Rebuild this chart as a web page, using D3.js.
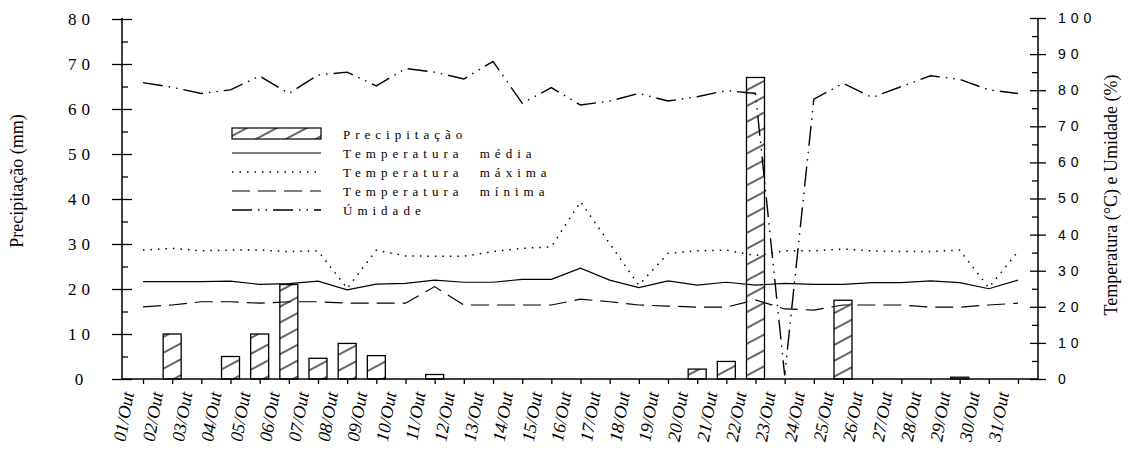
<!DOCTYPE html>
<html>
<head>
<meta charset="utf-8">
<script src="https://cdn.jsdelivr.net/npm/d3@7"></script>
<style>
  body { margin: 0; background: #fff; }
  svg text { fill: #000; }
</style>
</head>
<body>
<div id="chart"></div>
<script>
// Precipitação (barras, eixo esq.) e temperatura/umidade (linhas, eixo dir.) - Outubro

const days = ['01/Out', '02/Out', '03/Out', '04/Out', '05/Out', '06/Out', '07/Out', '08/Out',
  '09/Out', '10/Out', '11/Out', '12/Out', '13/Out', '14/Out', '15/Out', '16/Out', '17/Out',
  '18/Out', '19/Out', '20/Out', '21/Out', '22/Out', '23/Out', '24/Out', '25/Out', '26/Out',
  '27/Out', '28/Out', '29/Out', '30/Out', '31/Out'];

const precipitacao = [0, 10, 0, 5, 10, 21, 4.6, 7.9, 5.2, 0, 1, 0, 0, 0, 0, 0, 0, 0, 0, 2.2,
  3.9, 67, 0, 0, 17.5, 0, 0, 0, 0.4, 0, 0];

const tMedia = [27.0, 27.0, 27.0, 27.1, 26.2, 26.4, 27.1, 24.7, 26.3, 26.5, 27.4, 26.8, 26.8,
  27.6, 27.6, 30.7, 27.4, 25.3, 27.2, 26.0, 26.8, 26.0, 26.5, 26.2, 26.2, 26.7, 26.7, 27.2,
  26.7, 25.0, 27.4];

const tMaxima = [35.7, 36.2, 35.5, 35.7, 35.7, 35.3, 35.5, 25.1, 35.7, 34.1, 34.0, 34.0, 35.3,
  36.2, 36.6, 49.1, 37.5, 26.0, 34.8, 35.5, 35.7, 34.2, 35.5, 35.5, 36.0, 35.5, 35.3, 35.3,
  35.7, 25.3, 35.3];

const tMinima = [20.0, 20.5, 21.4, 21.4, 21.0, 21.4, 21.4, 21.0, 21.0, 21.0, 25.6, 20.5, 20.5,
  20.5, 20.5, 22.1, 21.4, 20.5, 20.2, 19.9, 19.9, 21.9, 19.4, 19.1, 20.5, 20.5, 20.5, 19.9,
  19.9, 20.5, 21.0];

const umidade = [82.1, 80.8, 79.1, 80.1, 83.9, 79.1, 84.2, 85.0, 81.2, 86.0, 85.0, 83.1, 88.0,
  76.4, 80.7, 75.9, 77.0, 79.1, 77.0, 78.2, 79.9, 79.1, 1, 77.5, 81.9, 78.0, 81.0, 84.0, 83.0,
  80.1, 79.1];

const leftTicks = [0, 10, 20, 30, 40, 50, 60, 70, 80];
const rightTicks = [0, 10, 20, 30, 40, 50, 60, 70, 80, 90, 100];

const serif = '"Liberation Serif", "Times New Roman", serif';
const sans = '"Liberation Sans", Arial, sans-serif';

const width = 1134, height = 450;
const margin = { top: 18, right: 96, bottom: 71, left: 122 };
const plotW = width - margin.left - margin.right;
const plotH = height - margin.top - margin.bottom;

const svg = d3.select('#chart').append('svg')
  .attr('width', width).attr('height', height);

const defs = svg.append('defs');
const pat = defs.append('pattern').attr('id', 'hatch')
  .attr('patternUnits', 'userSpaceOnUse')
  .attr('width', 14).attr('height', 14)
  .attr('patternTransform', 'rotate(-28)');
pat.append('line').attr('x1', 0).attr('x2', 14).attr('y1', 7).attr('y2', 7)
  .attr('stroke', '#000').attr('stroke-width', 1.2);

const g = svg.append('g').attr('transform', `translate(${margin.left},${margin.top})`);

const x = d3.scalePoint().domain(days).range([21, plotW - 20]);
const yL = d3.scaleLinear().domain([0, 80]).range([plotH, 1]);
const yR = d3.scaleLinear().domain([0, 100]).range([plotH, 0]);

// barras
g.selectAll('.bar').data(days.map((d, i) => ({ d, v: precipitacao[i] })).filter(p => p.v > 0))
  .join('rect')
  .attr('class', 'bar')
  .attr('x', p => x(p.d) - 9).attr('width', 18)
  .attr('y', p => yL(p.v)).attr('height', p => plotH - yL(p.v))
  .attr('fill', 'url(#hatch)').attr('stroke', '#000').attr('stroke-width', 1.3);

// linhas
const series = [
  { name: 'Temperatura média', values: tMedia, dash: null, sw: 1.2 },
  { name: 'Temperatura máxima', values: tMaxima, dash: '1.5,6', sw: 1.5 },
  { name: 'Temperatura mínima', values: tMinima, dash: '18,8', sw: 1.2 },
  { name: 'Úmidade', values: umidade, dash: '20,6,1.5,6,1.5,6', sw: 1.4 }
];

const line = d3.line().x((v, i) => x(days[i])).y(v => yR(v));

g.selectAll('.serie').data(series).join('path')
  .attr('class', 'serie')
  .attr('d', s => line(s.values))
  .attr('fill', 'none').attr('stroke', '#000')
  .attr('stroke-width', s => s.sw)
  .attr('stroke-dasharray', s => s.dash);

// eixo esquerdo
const axL = g.append('g')
  .call(d3.axisLeft(yL).tickValues(leftTicks).tickSize(10).tickFormat(d3.format('d')));
axL.select('.domain').attr('stroke-width', 1.5).attr('d', `M0,${plotH}V0`);
axL.selectAll('.tick line').attr('x1', 10).attr('stroke-width', 1.3);
axL.selectAll('.tick text')
  .attr('text-anchor', 'middle').attr('x', -40.5)
  .attr('font-family', serif).attr('font-size', 17).attr('letter-spacing', 5);
g.append('g')
  .call(d3.axisRight(yL).tickValues(d3.range(5, 80, 10)).tickSize(6).tickFormat(''))
  .call(a => a.select('.domain').remove())
  .selectAll('line').attr('stroke-width', 1.3);

// eixo direito
const axR = g.append('g').attr('transform', `translate(${plotW},0)`)
  .call(d3.axisRight(yR).tickValues(rightTicks).tickSize(8).tickPadding(12));
axR.select('.domain').attr('stroke-width', 1.5).attr('d', `M0,${plotH}V0`);
axR.selectAll('.tick line').attr('x1', -8).attr('stroke-width', 1.3);
axR.selectAll('.tick text')
  .attr('font-family', sans).attr('font-size', 14).attr('letter-spacing', 5);
g.append('g').attr('transform', `translate(${plotW},0)`)
  .call(d3.axisLeft(yR).tickValues(d3.range(5, 100, 10)).tickSize(6).tickFormat(''))
  .call(a => a.select('.domain').remove())
  .selectAll('line').attr('stroke-width', 1.3);

// eixo x
const axX = g.append('g').attr('transform', `translate(0,${plotH})`)
  .call(d3.axisBottom(x).tickSize(5).tickFormat(''));
axX.select('.domain').attr('d', `M0,0H${plotW}`).attr('stroke-width', 1.5);
axX.selectAll('.tick line').attr('stroke-width', 1.3);

g.selectAll('.xlab').data(days).join('text')
  .attr('class', 'xlab')
  .attr('transform', d => `translate(${x(d) - 9},${plotH + 14}) rotate(-80)`)
  .attr('text-anchor', 'end')
  .attr('font-family', serif).attr('font-style', 'italic').attr('font-size', 18)
  .text(d => d);

// títulos dos eixos
svg.append('text')
  .attr('transform', `translate(23,181) rotate(-90)`)
  .attr('text-anchor', 'middle')
  .attr('font-family', serif).attr('font-size', 18)
  .text('Precipitação (mm)');

svg.append('text')
  .attr('transform', `translate(1117,195) rotate(-90)`)
  .attr('text-anchor', 'middle')
  .attr('font-family', serif).attr('font-size', 18)
  .text('Temperatura (°C) e Umidade (%)');

// legenda
const leg = svg.append('g').attr('transform', 'translate(232,128)');
const legItems = [{ name: 'Precipitação' }].concat(series);
const rows = leg.selectAll('.row').data(legItems).join('g')
  .attr('class', 'row')
  .attr('transform', (d, i) => `translate(0,${i * 19})`);
rows.filter((d, i) => i === 0).append('rect')
  .attr('x', 0).attr('y', 0).attr('width', 89).attr('height', 11)
  .attr('fill', 'url(#hatch)').attr('stroke', '#000').attr('stroke-width', 1.2);
rows.filter((d, i) => i > 0).append('line')
  .attr('x1', 0).attr('x2', 89).attr('y1', 6).attr('y2', 6)
  .attr('stroke', '#000')
  .attr('stroke-width', d => d.sw)
  .attr('stroke-dasharray', d => d.dash);
rows.append('text')
  .attr('x', 111).attr('y', 11)
  .attr('font-family', serif).attr('font-size', 13)
  .attr('letter-spacing', 5).attr('word-spacing', 8)
  .text(d => d.name);
</script>
</body>
</html>
